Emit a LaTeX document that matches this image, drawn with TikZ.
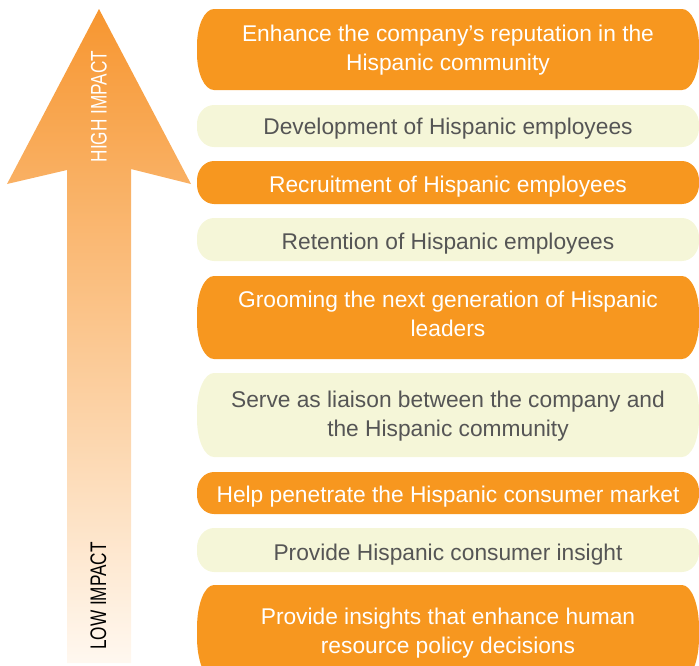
\documentclass[tikz,border=0pt]{standalone}
\usepackage{fontspec}
\setmainfont{Liberation Sans}
\definecolor{boxorange}{RGB}{247,151,31}
\definecolor{boxcream}{RGB}{245,246,216}
\definecolor{textgray}{RGB}{85,85,85}
\definecolor{arrowtop}{RGB}{247,150,48}
\definecolor{arrowbottom}{RGB}{255,248,240}
\newcommand\pillshape[3]{%
  \pgfmathsetmacro\pT{#1}%
  \pgfmathsetmacro\pB{#2}%
  \pgfmathsetmacro\pry{0.45*(#2-#1)}%
  \pgfmathsetmacro\pkr{0.5523*\pry}%
  \fill[#3] (214,\pT) -- (682,\pT)
    .. controls (691.39,\pT) and (699,\pT+\pry-\pkr) .. (699,\pT+\pry)
    -- (699,\pB-\pry)
    .. controls (699,\pB-\pry+\pkr) and (691.39,\pB) .. (682,\pB)
    -- (214,\pB)
    .. controls (204.61,\pB) and (197,\pB-\pry+\pkr) .. (197,\pB-\pry)
    -- (197,\pT+\pry)
    .. controls (197,\pT+\pry-\pkr) and (204.61,\pT) .. cycle;%
}
\tikzset{
  boxtext/.style={font=\fontsize{22.75pt}{29pt}\selectfont, align=center, inner sep=0pt},
  onorange/.style={boxtext, text=white},
  oncream/.style={boxtext, text=textgray},
  sidelabel/.style={font=\fontsize{22.5pt}{27pt}\selectfont, rotate=90, inner sep=0pt}
}
\begin{document}
\begin{tikzpicture}[x=1pt,y=-1pt]
\useasboundingbox (0,0) rectangle (699,665);
\clip (0,0) rectangle (699,665);
% arrow
\path[top color=arrowtop, bottom color=arrowbottom, shading angle=0]
  (99,9) -- (191,184) -- (131,169) -- (131,663) -- (67,663) -- (67,170) -- (7,184) -- cycle;
\node[sidelabel, text=white] (high) at (99,106.5) {\scalebox{0.765}[1]{HIGH IMPACT}};
\node[sidelabel, text=black] (low) at (98.5,596) {\scalebox{0.765}[1]{LOW IMPACT}};
% boxes
\pillshape{9}{90}{boxorange}
\node[onorange] (b1) at (448,50.5) {Enhance the company’s reputation in the\\Hispanic community};
\pillshape{105}{147}{boxcream}
\node[oncream] (b2) at (448,129) {Development of Hispanic employees};
\pillshape{161}{204}{boxorange}
\node[onorange] (b3) at (448,187) {Recruitment of Hispanic employees};
\pillshape{218}{261}{boxcream}
\node[oncream] (b4) at (448,244) {Retention of Hispanic employees};
\pillshape{276}{359}{boxorange}
\node[onorange] (b5) at (448,314) {Grooming the next generation of Hispanic\\leaders};
\pillshape{373}{457}{boxcream}
\node[oncream] (b6) at (448,416) {Serve as liaison between the company and\\the Hispanic community};
\pillshape{472}{514}{boxorange}
\node[onorange] (b7) at (448,497) {Help penetrate the Hispanic consumer market};
\pillshape{528}{572}{boxcream}
\node[oncream] (b8) at (448,555) {Provide Hispanic consumer insight};
\pillshape{585}{680}{boxorange}
\node[onorange] (b9) at (448,633) {Provide insights that enhance human\\resource policy decisions};
\end{tikzpicture}
\end{document}
